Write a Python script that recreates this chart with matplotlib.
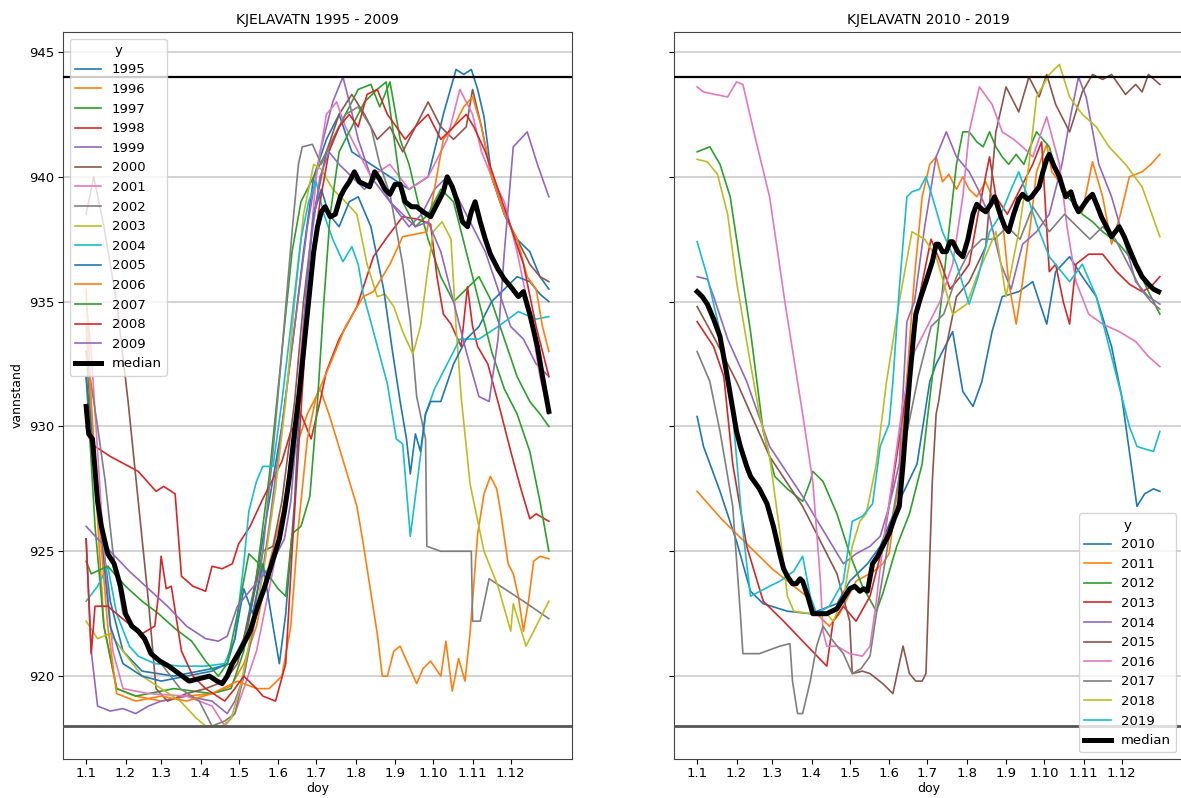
import matplotlib
matplotlib.use("Agg")
import matplotlib.pyplot as plt

# ---------------- data (doy, water level) ----------------
month_ticks = [1, 32, 60, 91, 121, 152, 182, 213, 244, 274, 305, 335]
month_labels = ["1.1", "1.2", "1.3", "1.4", "1.5", "1.6", "1.7", "1.8", "1.9", "1.10", "1.11", "1.12"]
hrv = 944.0
lrv = 918.0

years_left = [1995, 1996, 1997, 1998, 1999, 2000, 2001, 2002, 2003, 2004, 2005, 2006, 2007, 2008, 2009]
years_right = [2010, 2011, 2012, 2013, 2014, 2015, 2016, 2017, 2018, 2019]

y1995 = [(1, 933), (10, 927), (20, 923), (30, 921), (45, 920.2), (70, 920), (100, 920.3), (115, 920.5),
         (125, 921.5), (135, 924), (145, 927), (155, 930), (165, 934), (172, 937), (180, 940), (190, 941.5),
         (200, 942.5), (210, 941), (225, 940.5), (240, 940), (255, 939.5), (270, 940), (282, 942.5),
         (292, 944.3), (298, 944.1), (304, 944.3), (309, 943.5), (314, 942.4), (320, 940), (330, 938.5),
         (340, 937.5), (350, 937), (358, 936), (365, 935.5)]
y1996 = [(1, 934), (8, 928), (15, 922), (25, 919.5), (40, 919.2), (60, 919), (80, 919.2), (100, 919.3),
         (115, 919.6), (125, 920.5), (135, 922), (145, 924.5), (155, 926.5), (165, 929), (175, 930.5),
         (185, 931.5), (192, 930.5), (201, 929), (214, 926.8), (219, 925.3), (230, 921.7), (234, 920),
         (238, 920), (243, 921), (248, 921.2), (255, 920.4), (261, 919.7), (266, 920.3), (272, 920.6),
         (280, 920), (284, 921.4), (289, 919.4), (294, 920.7), (299, 919.8), (303, 921.7), (309, 925.7),
         (314, 927.3), (319, 928), (324, 927.5), (327, 926.6), (333, 924.5), (337, 924.1), (341, 923.2),
         (345, 921.8), (349, 923), (353, 924.6), (358, 924.8), (365, 924.7)]
y1997 = [(1, 932), (8, 926), (15, 922), (25, 919.5), (40, 919.2), (70, 919.5), (100, 919.3), (115, 919.5),
         (125, 921), (135, 924), (145, 928), (155, 933), (163, 937), (170, 939), (180, 940), (195, 941.5),
         (205, 942.5), (215, 943.5), (225, 943.7), (232, 942.8), (240, 943.8), (248, 941.5), (255, 940.5),
         (262, 939), (270, 937.5), (280, 936), (290, 935), (300, 935.5), (310, 936), (320, 935),
         (330, 933.5), (340, 932), (350, 931), (358, 930.5), (365, 930.0)]
y1998 = [(1, 930), (5, 929.3), (20, 928.8), (42, 928.2), (56, 927.4), (62, 927.6), (71, 927.3), (76, 924.0),
         (85, 923.6), (95, 923.4), (100, 924.4), (108, 924.3), (116, 924.5), (121, 925.3), (130, 926.0),
         (140, 927.1), (155, 928.6), (162, 929.8), (170, 930.5), (178, 929.5), (185, 931), (190, 932.2),
         (200, 933.5), (214, 934.8), (227, 936.8), (238, 937.6), (250, 938.4), (262, 938.3), (272, 938.1),
         (277, 936), (282, 934.5), (288, 934.1), (296, 933.2), (301, 935.6), (305, 934), (309, 933.2),
         (317, 932.5), (327, 930.6), (335, 929), (343, 927.5), (350, 926.3), (355, 926.5), (365, 926.2)]
y1999 = [(1, 925.5), (5, 921), (10, 918.8), (20, 918.6), (30, 918.7), (40, 918.5), (50, 918.8), (60, 919),
         (80, 919.2), (100, 919), (112, 918.5), (118, 919), (125, 920), (135, 922.5), (145, 926), (155, 930),
         (165, 934), (175, 938), (185, 941), (195, 943), (203, 944), (208, 943), (215, 941.5), (225, 940),
         (240, 939), (255, 938), (265, 938.5), (275, 939.5), (285, 940), (295, 939), (305, 938), (315, 937),
         (325, 935.5), (335, 934), (345, 933.5), (355, 932.5), (365, 932)]
y2000 = [(1, 938.5), (7, 940), (15, 938), (25, 935), (34, 931), (42, 927), (50, 923), (56, 919.5), (65, 919),
         (80, 919.3), (95, 919.5), (110, 919.8), (120, 920.5), (130, 922.5), (140, 925), (148, 925.2),
         (155, 927), (165, 931), (172, 935), (180, 938.5), (190, 941), (200, 942.5), (210, 943.3),
         (220, 942.5), (230, 941.5), (240, 942), (250, 941), (260, 942), (270, 943), (280, 942),
         (290, 941.5), (300, 942), (305, 943.5), (312, 942), (320, 940), (330, 938.5), (340, 937.5),
         (350, 936.5), (358, 936), (365, 935.8)]
y2001 = [(1, 935), (5, 933), (10, 929), (15, 925), (22, 921), (30, 919.5), (50, 919.3), (80, 919.2),
         (100, 918.8), (110, 918), (118, 918.5), (125, 919.5), (135, 921), (145, 923.5), (155, 926),
         (165, 930), (175, 936), (182, 940), (190, 942.5), (198, 943), (205, 942), (215, 941), (225, 940),
         (240, 940.5), (255, 939.5), (270, 940), (285, 941.5), (295, 943.5), (305, 942.5), (312, 941),
         (320, 940), (330, 939), (340, 937), (350, 934.5), (358, 932), (365, 930.5)]
y2002 = [(1, 933), (10, 930), (16, 927.8), (22, 925), (30, 922.5), (45, 921.5), (60, 920.5), (75, 919.5),
         (90, 919), (100, 918), (110, 918.2), (118, 918.5), (125, 920), (132, 922), (140, 925), (148, 929),
         (155, 933), (160, 936), (163, 937.8), (168, 940.5), (171, 941.2), (179, 941.3), (186, 940.5),
         (195, 941.5), (205, 942.5), (215, 942.8), (225, 942), (232, 940.5), (240, 939.3), (250, 936.5),
         (256, 934.2), (261, 931.2), (268, 929.5), (269, 925.2), (280, 925), (295, 925), (304, 925),
         (305, 922.2), (311, 922.2), (318, 923.9), (330, 923.5), (345, 923), (365, 922.3)]
y2003 = [(1, 922.2), (10, 921.5), (20, 921.7), (30, 921), (45, 920), (60, 919.5), (75, 919), (88, 918.3),
         (95, 918), (108, 918), (115, 918.3), (122, 919.5), (130, 921.5), (140, 924), (150, 927.5),
         (158, 931), (165, 935), (172, 938.5), (180, 940.5), (186, 940.3), (195, 939.5), (205, 939),
         (214, 938.5), (222, 936.5), (230, 935.2), (236, 935.3), (243, 934.8), (250, 933.8), (258, 932.9),
         (264, 934), (269, 936), (274, 937.8), (281, 938.2), (288, 937.5), (292, 934), (296, 931.2),
         (303, 927.7), (314, 925), (325, 923.6), (335, 921.8), (337, 922.9), (347, 921.2), (355, 922),
         (365, 923)]
y2004 = [(1, 923), (10, 923.6), (18, 924.4), (25, 922.5), (35, 921.2), (42, 920.8), (55, 920.5), (75, 920.4),
         (95, 920.4), (110, 920.5), (118, 921.5), (125, 924.5), (129, 926.6), (135, 927.8), (140, 928.4),
         (148, 928.4), (155, 931), (162, 934), (170, 937.5), (176, 939), (182, 939.8), (188, 938.5),
         (195, 937.5), (203, 936.6), (210, 937.2), (215, 936.5), (219, 935.3), (227, 933.8), (238, 931.7),
         (245, 929.5), (250, 929.3), (256, 925.6), (262, 928), (268, 930.5), (275, 931.5), (285, 932.5),
         (295, 933.5), (310, 933.5), (325, 934), (341, 934.6), (355, 934.3), (365, 934.4)]
y2005 = [(1, 932), (5, 930), (12, 926), (20, 922), (30, 920.5), (45, 920), (60, 919.8), (80, 920),
         (100, 920.2), (112, 920.5), (118, 921.5), (125, 923.5), (132, 922.5), (140, 924.5), (148, 922),
         (153, 920.5), (158, 922.5), (165, 927), (170, 932), (175, 936), (180, 938.5), (186, 939.5),
         (192, 938.5), (200, 938), (208, 939), (215, 939.2), (225, 938), (235, 935.5), (242, 933),
         (248, 931), (253, 929.5), (256, 928.1), (260, 929.7), (264, 929), (268, 930.5), (272, 931),
         (280, 931), (290, 932.5), (300, 933.5), (310, 934), (320, 935), (330, 935.5), (340, 936),
         (350, 935.8), (358, 935.3), (365, 935)]
y2006 = [(1, 935.5), (5, 931), (10, 927), (18, 922), (25, 919.3), (40, 919), (60, 919.2), (80, 919),
         (100, 919.3), (120, 919.8), (135, 919.5), (145, 919.5), (155, 920), (162, 922), (168, 926),
         (175, 929.5), (182, 931.2), (193, 932.5), (205, 934), (219, 935.2), (227, 935.4), (240, 936.5),
         (250, 937.6), (260, 937.7), (269, 937.8), (275, 939.5), (282, 941.5), (290, 942), (298, 942.8),
         (305, 943.2), (312, 942), (320, 940), (330, 938.5), (340, 937.5), (348, 936), (355, 935.5),
         (360, 934), (365, 933)]
y2007 = [(1, 924.6), (5, 924.1), (18, 924.4), (32, 923.6), (45, 923), (58, 922.5), (71, 921.9), (84, 921.4),
         (95, 920.6), (105, 920), (112, 920.5), (120, 922.5), (129, 924.9), (137, 924.5), (145, 924),
         (152, 923.5), (158, 923.2), (163, 925.7), (170, 926), (177, 927.2), (183, 931), (188, 935),
         (193, 938.5), (200, 941), (210, 942), (220, 943), (230, 943.5), (237, 943.8), (242, 942),
         (250, 939), (260, 938), (270, 938.5), (280, 939.5), (290, 939), (300, 937), (310, 935),
         (320, 933), (330, 931.5), (340, 930.5), (350, 929), (358, 927), (365, 925)]
y2008 = [(1, 925.5), (5, 920.9), (8, 922.8), (18, 922.8), (32, 922.2), (45, 921.7), (55, 922), (58, 923.3),
         (60, 924.8), (64, 923.5), (68, 923.6), (76, 921), (85, 920), (95, 919.5), (110, 919), (118, 919.5),
         (125, 920), (135, 919.5), (140, 919.2), (150, 919), (158, 920.5), (163, 925), (168, 929),
         (173, 933), (178, 936.5), (185, 939), (192, 941), (200, 942), (208, 942.5), (215, 942),
         (222, 943.3), (230, 943.5), (238, 942.5), (245, 942), (252, 941.5), (260, 942), (270, 942.5),
         (280, 941.5), (290, 942), (300, 942.5), (306, 942), (315, 941), (325, 939.5), (335, 938),
         (345, 936.5), (355, 934), (365, 932)]
y2009 = [(1, 926), (10, 925.5), (20, 925), (35, 924.2), (50, 923.5), (65, 922.8), (80, 922), (95, 921.5),
         (105, 921.4), (112, 921.6), (120, 922.8), (128, 923.3), (136, 923.8), (143, 924.2), (150, 924.8),
         (157, 925.5), (162, 927), (167, 930), (172, 934), (178, 937.5), (185, 940), (192, 941),
         (200, 940.5), (210, 940), (220, 939.5), (230, 940), (240, 939), (250, 938.5), (260, 938),
         (270, 938.2), (280, 937), (290, 935), (300, 933), (310, 931.2), (318, 931), (325, 933.5),
         (330, 937), (337, 941.2), (348, 941.8), (356, 940.5), (365, 939.2)]

median_left = [(1, 930.8), (3, 929.7), (6, 929.5), (10, 927), (13, 926), (18, 924.9), (23, 924.5), (28, 923.6),
               (32, 922.5), (37, 922), (42, 921.8), (47, 921.5), (52, 920.9), (59, 920.6), (66, 920.4),
               (74, 920.1), (82, 919.8), (90, 919.9), (98, 920), (104, 919.8), (108, 919.7), (112, 920),
               (116, 920.5), (122, 921), (130, 921.8), (136, 922.8), (141, 923.5), (147, 924.5), (153, 925.5),
               (157, 926.6), (161, 928), (165, 929.8), (169, 931.5), (173, 933.5), (177, 935.5), (180, 937),
               (183, 938), (186, 938.6), (189, 938.8), (193, 938.4), (197, 938.5), (201, 939.2), (204, 939.5),
               (208, 939.8), (212, 940.2), (216, 939.8), (220, 939.7), (224, 939.6), (228, 940.2),
               (232, 939.9), (236, 939.5), (240, 939.3), (244, 939.7), (248, 939.7), (252, 939), (257, 938.8),
               (261, 938.8), (266, 938.6), (272, 938.4), (277, 938.9), (282, 939.4), (285, 940), (289, 939.6),
               (293, 939), (297, 938.2), (301, 938), (304, 938.6), (307, 939), (311, 938.2), (315, 937.5),
               (319, 936.9), (325, 936.3), (330, 935.9), (335, 935.6), (341, 935.2), (345, 935.4),
               (350, 934.5), (356, 933.2), (360, 932), (365, 930.6)]

y2010 = [(1, 930.4), (6, 929.2), (19, 927.4), (32, 925.4), (43, 923.4), (53, 922.9), (72, 922.6), (90, 922.5),
         (111, 922.9), (121, 923.8), (135, 924.5), (145, 925.2), (158, 926.8), (174, 928.5), (184, 931.8),
         (189, 932.5), (202, 933.8), (210, 931.4), (218, 930.8), (225, 931.8), (233, 933.8), (241, 935.2),
         (254, 935.4), (265, 935.8), (276, 934.1), (283, 936.2), (294, 936.8), (304, 936), (315, 935.2),
         (327, 933.2), (335, 931.2), (341, 929), (347, 926.8), (353, 927.3), (360, 927.5), (365, 927.4)]
y2011 = [(1, 927.4), (20, 926.3), (40, 925.3), (60, 924.3), (87, 923.2), (95, 922.5), (105, 922), (113, 922.5),
         (126, 923.8), (140, 924.2), (147, 924.5), (152, 924.9), (160, 928), (166, 932), (172, 936),
         (178, 939.2), (184, 940.5), (189, 940.8), (194, 939.8), (199, 940.1), (205, 939.5), (210, 940),
         (215, 939.5), (221, 939.2), (228, 939.8), (235, 939), (241, 938.4), (246, 935.8), (252, 934.1),
         (257, 935.8), (263, 938), (268, 940.2), (276, 941.3), (280, 940.2), (290, 939.5), (298, 939),
         (304, 938.6), (312, 940.6), (320, 939.2), (327, 937.3), (334, 938.5), (341, 940), (351, 940.2),
         (358, 940.5), (365, 940.9)]
y2012 = [(1, 941), (11, 941.2), (19, 940.5), (27, 939.2), (35, 936.5), (43, 933.8), (53, 929.8), (62, 928),
         (72, 927.5), (84, 927), (90, 927.8), (92, 928.2), (100, 927.8), (111, 926.5), (121, 924.9),
         (131, 923.6), (142, 922.6), (147, 923.3), (158, 925.2), (168, 926.5), (178, 928.5), (186, 932),
         (193, 935), (199, 937.8), (205, 940.5), (210, 941.8), (215, 941.8), (221, 941.4), (226, 941.2),
         (231, 941.8), (236, 941.2), (241, 940.8), (246, 940.5), (252, 940.9), (258, 940.5), (263, 941.2),
         (268, 941.8), (278, 941.2), (288, 939.4), (296, 939), (304, 938.5), (312, 938.2), (320, 937.8),
         (333, 937.3), (346, 936.5), (356, 935.4), (365, 934.5)]
y2013 = [(1, 934.2), (14, 933.2), (22, 932), (29, 928.5), (40, 925.2), (53, 923), (69, 922.2), (84, 921.4),
         (103, 920.4), (108, 922.2), (116, 922.8), (121, 922.5), (126, 922.2), (137, 923.2), (147, 925.2),
         (155, 927.8), (163, 930.5), (170, 933), (177, 935.5), (185, 937.5), (193, 936.5), (200, 935.5),
         (208, 936), (215, 936.5), (222, 938.5), (231, 940.8), (236, 939.2), (245, 938.5), (255, 939.5),
         (265, 940.5), (272, 941.4), (278, 936.2), (283, 936.5), (289, 935), (294, 934.1), (299, 936.5),
         (309, 936.9), (320, 936.9), (331, 936.2), (341, 935.7), (351, 935.4), (358, 935.6), (365, 936)]
y2014 = [(1, 936), (9, 935.9), (14, 935.2), (25, 933.5), (40, 931.8), (58, 929.2), (84, 927.2), (103, 925.6),
         (116, 924.5), (126, 924.9), (137, 925.2), (145, 925.6), (152, 926.8), (160, 928.5), (166, 934.2),
         (172, 935), (180, 938), (189, 940.8), (197, 941.8), (205, 940.8), (215, 940.2), (222, 939.5),
         (231, 938.4), (240, 936.5), (248, 935.5), (257, 937.3), (268, 937.8), (278, 938.5), (288, 940.5),
         (295, 942.5), (301, 944), (307, 943.2), (317, 940.5), (327, 939.2), (335, 937.8), (346, 935.8),
         (356, 935.2), (365, 934.9)]
y2015 = [(1, 934.8), (15, 933.5), (32, 931.8), (58, 928.8), (84, 926.8), (111, 924.1), (121, 922.2),
         (123, 920.1), (131, 920.2), (137, 920.1), (147, 919.7), (155, 919.3), (160, 920.5), (163, 921.2),
         (168, 920.1), (173, 919.8), (178, 919.8), (181, 920.1), (186, 927.8), (189, 930.5), (191, 931),
         (197, 933.2), (205, 935.2), (215, 935.8), (228, 937.2), (236, 941.8), (244, 943.6), (254, 942.6),
         (262, 944), (270, 943.2), (276, 944.1), (283, 942.9), (294, 941.8), (304, 943.4), (312, 944.1),
         (320, 943.9), (327, 944.1), (338, 943.3), (346, 943.7), (351, 943.4), (356, 944.1), (365, 943.7)]
y2016 = [(1, 943.6), (6, 943.4), (15, 943.3), (25, 943.2), (32, 943.8), (37, 943.7), (47, 941.5),
         (58, 939.2), (70, 935), (84, 930.5), (92, 927.8), (98, 923.8), (100, 921.8), (103, 921.2),
         (111, 921.2), (121, 920.9), (131, 920.8), (137, 921.2), (142, 923), (147, 925.2), (155, 928),
         (163, 931), (172, 933), (182, 934), (192, 935), (202, 936.5), (210, 939.2), (215, 941.8),
         (223, 943.6), (233, 942.9), (241, 941.8), (250, 941.5), (257, 941.2), (265, 940.8), (276, 942.4),
         (286, 940.5), (292, 938), (299, 935.8), (309, 934.5), (320, 934.1), (333, 933.8), (346, 933.4),
         (356, 932.8), (365, 932.4)]
y2017 = [(1, 933), (11, 931.8), (19, 929.8), (29, 926.8), (35, 922.5), (37, 920.9), (50, 920.9), (66, 921.2),
         (74, 921.3), (76, 919.8), (80, 918.5), (84, 918.5), (90, 919.8), (95, 921.2), (100, 922),
         (108, 921.4), (116, 920.9), (123, 920.1), (130, 920.3), (137, 920.8), (142, 922.5), (147, 924),
         (155, 926.5), (165, 929.5), (175, 932), (185, 934), (195, 934.5), (205, 936), (215, 937),
         (225, 937.5), (235, 937.5), (245, 938), (255, 937.5), (265, 938.8), (278, 937.8), (290, 938.5),
         (300, 938), (310, 937.5), (320, 938), (330, 937.5), (340, 936.5), (350, 935.5), (358, 935),
         (365, 934.7)]
y2018 = [(1, 940.7), (9, 940.6), (17, 940.1), (25, 938.5), (32, 935.8), (43, 932.5), (50, 930.5),
         (58, 928.8), (66, 925.8), (72, 923.2), (77, 922.6), (90, 922.5), (103, 922.5), (108, 922.2),
         (116, 923.1), (123, 925.2), (129, 926.2), (134, 926.5), (142, 928.5), (150, 931.8), (160, 935),
         (170, 937.8), (180, 937.5), (189, 936.8), (202, 934.5), (213, 934.9), (221, 936), (236, 937.8),
         (244, 935.2), (254, 937.8), (262, 940.5), (268, 943.2), (278, 944.1), (286, 944.5), (294, 943.2),
         (304, 942.5), (315, 942), (325, 941.2), (338, 940.5), (351, 939.6), (365, 937.6)]
y2019 = [(1, 937.4), (9, 936), (19, 933.8), (29, 930.5), (37, 925.8), (43, 923.2), (58, 923.6), (66, 923.8),
         (77, 924.2), (84, 924.8), (90, 923.2), (95, 922.5), (105, 922.8), (116, 923.8), (123, 926.2),
         (131, 926.4), (139, 926.9), (145, 929.2), (152, 930.1), (155, 931.8), (160, 935.5), (166, 939.2),
         (170, 939.4), (176, 939.5), (181, 940), (186, 939.2), (194, 937.8), (205, 936.5), (215, 934.9),
         (222, 936), (231, 937.8), (240, 938.5), (248, 939.5), (254, 940.2), (261, 939.2), (268, 938.1),
         (278, 936.8), (294, 935.8), (304, 936.5), (315, 935.2), (325, 933.2), (335, 931.2), (341, 930),
         (347, 929.2), (353, 929.1), (360, 929), (365, 929.8)]

median_right = [(1, 935.4), (5, 935.2), (9, 934.9), (14, 934.3), (19, 933.6), (24, 932.2), (28, 931), (32, 929.8),
                (35, 929.2), (40, 928.4), (43, 928), (50, 927.5), (56, 926.9), (61, 926), (66, 924.9),
                (69, 924.3), (72, 924), (76, 923.7), (79, 923.7), (82, 923.9), (84, 923.8), (88, 923.2),
                (92, 922.5), (97, 922.5), (103, 922.5), (107, 922.6), (111, 922.7), (116, 923.1), (121, 923.5),
                (125, 923.6), (129, 923.4), (132, 923.5), (135, 923.4), (139, 924.5), (143, 924.8),
                (147, 925.2), (152, 925.7), (156, 926.3), (160, 926.8), (163, 928.5), (166, 930.5),
                (168, 931.8), (171, 933.5), (173, 934.5), (177, 935.2), (181, 935.8), (186, 936.6),
                (189, 937.3), (191, 937.3), (194, 937), (197, 937), (200, 937.4), (202, 937.4), (206, 937),
                (210, 936.8), (214, 937.5), (218, 938.5), (221, 938.9), (225, 938.7), (228, 938.6),
                (232, 938.9), (235, 939.2), (240, 938.4), (243, 938), (246, 937.8), (250, 938.5), (254, 939.1),
                (257, 939.3), (261, 939.1), (264, 939.2), (267, 939.4), (270, 939.6), (273, 940.2),
                (276, 940.7), (278, 940.9), (282, 940.4), (286, 940), (289, 939.5), (291, 939.2), (295, 939.4),
                (298, 938.9), (301, 938.6), (304, 938.8), (308, 939.1), (312, 939.3), (316, 938.8),
                (319, 938.4), (323, 938), (327, 937.6), (330, 937.8), (333, 938), (337, 937.6), (341, 937.1),
                (346, 936.5), (351, 936), (356, 935.7), (360, 935.5), (364, 935.4)]

series_left = [y1995, y1996, y1997, y1998, y1999, y2000, y2001, y2002, y2003, y2004, y2005, y2006, y2007,
               y2008, y2009]
series_right = [y2010, y2011, y2012, y2013, y2014, y2015, y2016, y2017, y2018, y2019]

# ---------------- figure ----------------
W, H = 1181, 798
fig = plt.figure(figsize=(W / 100, H / 100), dpi=100)
ax_l = fig.add_axes([63 / W, (H - 759) / H, 509 / W, (759 - 32) / H])
ax_r = fig.add_axes([674 / W, (H - 759) / H, 509 / W, (759 - 32) / H], sharey=ax_l)


def draw(ax, years, series, median, title, legend_loc):
    for yr, s in zip(years, series):
        d = [p[0] for p in s]
        v = [p[1] for p in s]
        ax.plot(d, v, lw=1.2, label=str(yr))
    d = [p[0] for p in median]
    v = [p[1] for p in median]
    ax.plot(d, v, color="black", lw=3.6, label="median", zorder=5)
    ax.axhline(hrv, color="black", lw=1.6, zorder=4)
    ax.axhline(lrv, color="#555555", lw=2.0, zorder=4)
    ax.set_xticks(month_ticks)
    ax.set_xticklabels(month_labels)
    ax.set_xlim(-17.2, 383.2)
    ax.grid(axis="y", color="#cccccc", lw=1.2)
    ax.set_axisbelow(True)
    ax.set_title(title, fontsize=10)
    ax.set_xlabel("doy", fontsize=9, labelpad=1)
    ax.legend(title="y", loc=legend_loc, fontsize=9.5, title_fontsize=9.5)
    for sp in ax.spines.values():
        sp.set_color("#444444")


draw(ax_l, years_left, series_left, median_left, "KJELAVATN 1995 - 2009", "upper left")
draw(ax_r, years_right, series_right, median_right, "KJELAVATN 2010 - 2019", "lower right")

ax_l.set_ylim(916.68, 945.8)
ax_l.set_yticks([920, 925, 930, 935, 940, 945])
ax_l.set_ylabel("vannstand", fontsize=9)
plt.setp(ax_r.get_yticklabels(), visible=False)
for ax in (ax_l, ax_r):
    ax.tick_params(labelsize=9.5, pad=2.5)

fig.savefig("out.png", dpi=100)
